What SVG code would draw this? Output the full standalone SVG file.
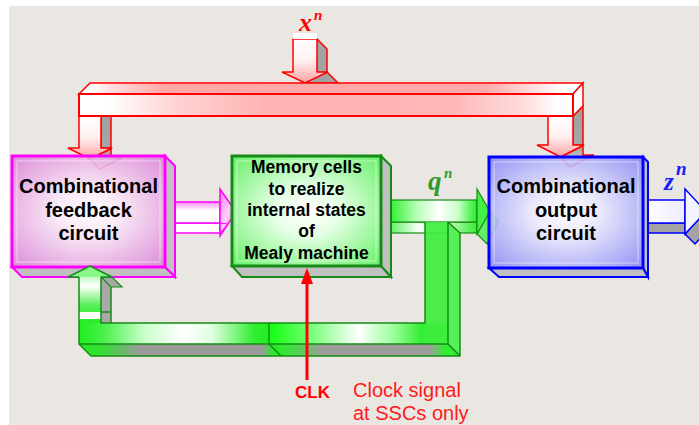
<svg xmlns="http://www.w3.org/2000/svg" width="699" height="425" viewBox="0 0 699 425">
  <defs>
    <style>
      .lbl{font-family:"Liberation Sans",Arial,sans-serif;font-weight:bold;fill:#000;text-anchor:middle}
      .big{font-size:20px}
      .mid{font-size:17.5px}
      .var{font-family:"Liberation Serif","Times New Roman",serif;font-style:italic;font-weight:bold}
      .rs{stroke:#FF0000;stroke-width:1.5;stroke-linejoin:miter}
      .gs{stroke:#178A17;stroke-width:1.5;fill:none}
      .ms{stroke:#FF00FF;stroke-width:1.5}
      .bs{stroke:#0000FF;stroke-width:1.5}
      .side{fill:#C0C0C0}
    </style>
    <linearGradient id="barFront" gradientUnits="userSpaceOnUse" x1="79" y1="0" x2="573" y2="0">
      <stop offset="0" stop-color="#fff"/><stop offset="0.06" stop-color="#fff"/>
      <stop offset="0.2" stop-color="#FFD2D2"/><stop offset="0.38" stop-color="#FFB3B3"/>
      <stop offset="0.75" stop-color="#FFB6B6"/><stop offset="0.9" stop-color="#FFDCDC"/>
      <stop offset="0.97" stop-color="#fff"/><stop offset="1" stop-color="#fff"/>
    </linearGradient>
    <linearGradient id="barTop" gradientUnits="userSpaceOnUse" x1="90" y1="0" x2="583" y2="0">
      <stop offset="0" stop-color="#fff"/><stop offset="0.04" stop-color="#FFE0E0"/>
      <stop offset="0.15" stop-color="#FFA8A8"/><stop offset="0.8" stop-color="#FFAAAA"/>
      <stop offset="0.96" stop-color="#fff"/><stop offset="1" stop-color="#fff"/>
    </linearGradient>
    <linearGradient id="redV" x1="0" y1="0" x2="0" y2="1">
      <stop offset="0" stop-color="#fff"/><stop offset="0.5" stop-color="#FFF0F0"/><stop offset="1" stop-color="#FFA0A0"/>
    </linearGradient>
    <linearGradient id="grayV" x1="0" y1="0" x2="0" y2="1">
      <stop offset="0" stop-color="#A0A0A0"/><stop offset="0.7" stop-color="#A8A8A8"/><stop offset="1" stop-color="#D8D8D8"/>
    </linearGradient>
    <radialGradient id="pinkFill" cx="0.5" cy="0.5" r="0.72">
      <stop offset="0" stop-color="#fff"/><stop offset="0.3" stop-color="#FAE8F8"/><stop offset="1" stop-color="#D97BD5"/>
    </radialGradient>
    <radialGradient id="greenFill" cx="0.5" cy="0.5" r="0.72">
      <stop offset="0" stop-color="#fff"/><stop offset="0.3" stop-color="#E6FFE6"/><stop offset="1" stop-color="#5FEF5F"/>
    </radialGradient>
    <radialGradient id="blueFill" cx="0.5" cy="0.5" r="0.72">
      <stop offset="0" stop-color="#fff"/><stop offset="0.3" stop-color="#EAEAFF"/><stop offset="1" stop-color="#8282F5"/>
    </radialGradient>
    <linearGradient id="pinkShaft" x1="0" y1="0" x2="0" y2="1">
      <stop offset="0" stop-color="#FF8CF0"/><stop offset="0.4" stop-color="#fff"/><stop offset="1" stop-color="#fff"/>
    </linearGradient>
    <linearGradient id="pinkHead" x1="0" y1="0" x2="1" y2="1">
      <stop offset="0" stop-color="#FF7CEE"/><stop offset="0.5" stop-color="#FFD0F8"/><stop offset="1" stop-color="#FF66EE"/>
    </linearGradient>
    <linearGradient id="qShaft" gradientUnits="userSpaceOnUse" x1="391" y1="0" x2="477" y2="0">
      <stop offset="0" stop-color="#33F033"/><stop offset="0.3" stop-color="#B8FFB8"/>
      <stop offset="0.55" stop-color="#fff"/><stop offset="0.78" stop-color="#C8FFC8"/><stop offset="1" stop-color="#22EE22"/>
    </linearGradient>
    <linearGradient id="qFace" gradientUnits="userSpaceOnUse" x1="391" y1="0" x2="477" y2="0">
      <stop offset="0" stop-color="#66F066"/><stop offset="0.3" stop-color="#F0FFF0"/>
      <stop offset="0.6" stop-color="#E8FFE8"/><stop offset="1" stop-color="#33EE33"/>
    </linearGradient>
    <linearGradient id="zShaft" x1="0" y1="0" x2="1" y2="0">
      <stop offset="0" stop-color="#fff"/><stop offset="1" stop-color="#ECECFF"/>
    </linearGradient>
    <linearGradient id="gLeft" gradientUnits="userSpaceOnUse" x1="79" y1="0" x2="269" y2="0">
      <stop offset="0" stop-color="#22EE22"/><stop offset="0.12" stop-color="#44F044"/>
      <stop offset="0.35" stop-color="#CCFFCC"/><stop offset="0.55" stop-color="#fff"/>
      <stop offset="0.7" stop-color="#E0FFE0"/><stop offset="0.92" stop-color="#33EE33"/><stop offset="1" stop-color="#22EE22"/>
    </linearGradient>
    <linearGradient id="gRight" gradientUnits="userSpaceOnUse" x1="269" y1="0" x2="448" y2="0">
      <stop offset="0" stop-color="#11FF11"/><stop offset="0.2" stop-color="#66FF66"/>
      <stop offset="0.5" stop-color="#fff"/><stop offset="0.7" stop-color="#99FF99"/>
      <stop offset="0.85" stop-color="#33EE33"/><stop offset="1" stop-color="#33EE33"/>
    </linearGradient>
    <linearGradient id="gUp" gradientUnits="userSpaceOnUse" x1="0" y1="266" x2="0" y2="323">
      <stop offset="0" stop-color="#7CF87C"/><stop offset="0.35" stop-color="#fff"/>
      <stop offset="0.7" stop-color="#55EE55"/><stop offset="1" stop-color="#22EE22"/>
    </linearGradient>
    <linearGradient id="gBottom" gradientUnits="userSpaceOnUse" x1="79" y1="0" x2="460" y2="0">
      <stop offset="0" stop-color="#22EE22"/><stop offset="0.06" stop-color="#33DD33"/>
      <stop offset="0.16" stop-color="#9A9A9A"/><stop offset="0.48" stop-color="#9A9A9A"/>
      <stop offset="0.51" stop-color="#22EE22"/><stop offset="0.56" stop-color="#44DD44"/>
      <stop offset="0.64" stop-color="#9C9C9C"/><stop offset="0.92" stop-color="#9C9C9C"/>
      <stop offset="0.96" stop-color="#33EE33"/><stop offset="1" stop-color="#33EE33"/>
    </linearGradient>
  </defs>

  <!-- slide background -->
  <rect width="699" height="425" fill="#fff"/>
  <rect x="9" y="6" width="690" height="419" fill="#EAE6E2"/>

  <!-- signal paths that run behind the blocks -->
  <g id="connectors">
    <!-- input x^n arrow -->
    <g id="input-arrow">
      <polygon points="317,39 327,49 327,72 338,83 305,83" fill="#A3A3A3" class="rs"/>
      <polygon points="293,39 317,39 317,72 328,72 305,83 282,72 293,72" fill="url(#redV)" class="rs"/>
      <rect x="293" y="33" width="24" height="6" fill="#fff"/>
    </g>
    <!-- drops from the input bus -->
    <polygon points="101,116 111,116 111,158 122,158 100,169 90,159 112,148 101,148" fill="url(#grayV)" class="rs"/>
    <polygon points="79,116 101,116 101,148 112,148 90,159 68,148 79,148" fill="url(#redV)" class="rs"/>
    <polygon points="573,116 583,106 583,155 594,155 570,167 560.5,157 584,145 573,145" fill="url(#grayV)" class="rs"/>
    <polygon points="548,116 573,116 573,145 584,145 560.5,157 537,145 548,145" fill="url(#redV)" class="rs"/>
    <!-- input bus -->
    <polygon points="79,94 90,83 583,83 573,94" fill="url(#barTop)" class="rs"/>
    <polygon points="573,94 583,83 583,106 573,116" fill="#fff" class="rs"/>
    <rect x="79" y="94" width="494" height="22" fill="url(#barFront)" stroke="#FF0000" stroke-width="2"/>

    <!-- feedback -> memory -->
    <g id="fb-to-mem">
      <rect x="175" y="223" width="45" height="10" fill="#fff" class="ms"/>
      <rect x="175" y="202" width="45" height="21" fill="url(#pinkShaft)" class="ms"/>
      <polygon points="220,189 236,212 220,236" fill="url(#pinkHead)" class="ms"/>
      <polyline points="220,223 228,224 220,233" fill="none" stroke="#FF00FF" stroke-width="1"/>
    </g>

    <!-- q^n state arrow -->
    <g id="state-arrow">
      <rect x="391" y="222" width="86" height="11" fill="url(#qFace)" stroke="#178A17" stroke-width="1.2"/>
      <polygon points="477,234 489,211 499,221 487,244" fill="#66EE66" stroke="#178A17" stroke-width="1.2"/>
      <rect x="391" y="200" width="86" height="22" fill="url(#qShaft)" stroke="#178A17" stroke-width="1.2"/>
      <polygon points="477,189 490,211.5 477,234" fill="#44F044" stroke="#178A17" stroke-width="1.2"/>
    </g>

    <!-- z^n output arrow -->
    <g id="output-arrow">
      <rect x="647" y="223" width="38" height="10" fill="#A3A3A3" class="bs"/>
      <polygon points="685,234 706,211.5 716,221 695,244" fill="#A3A3A3" class="bs"/>
      <rect x="647" y="200" width="38" height="23" fill="url(#zShaft)" class="bs"/>
      <polygon points="685,189 706,211.5 685,234" fill="#F4F4FF" class="bs"/>
    </g>
  </g>

  <!-- combinational feedback circuit -->
  <g id="feedback-circuit">
    <polygon points="165,156 175,166 175,277 165,267" class="side" stroke="#FF00FF" stroke-width="2"/>
    <polygon points="12,267 165,267 175,277 22,277" class="side" stroke="#FF00FF" stroke-width="2"/>
    <rect x="12" y="156" width="153" height="111" fill="url(#pinkFill)" fill-opacity="0.88" stroke="#FF00FF" stroke-width="3"/>
    <rect x="17" y="161" width="143" height="101" fill="none" stroke="#fff" stroke-opacity="0.35" stroke-width="1.5"/>
    <text class="lbl big" x="88.5" y="193">Combinational</text>
    <text class="lbl big" x="88.5" y="217">feedback</text>
    <text class="lbl big" x="88.5" y="240">circuit</text>
  </g>

  <!-- memory cells -->
  <g id="memory-cells">
    <polygon points="381,156 391,166 391,277 381,266" class="side" stroke="#178A17" stroke-width="2"/>
    <polygon points="232,266 381,266 391,277 242,277" class="side" stroke="#178A17" stroke-width="2"/>
    <rect x="232" y="156" width="149" height="110" fill="url(#greenFill)" stroke="#178A17" stroke-width="3"/>
    <rect x="237" y="161" width="139" height="100" fill="none" stroke="#fff" stroke-opacity="0.35" stroke-width="1.5"/>
    <text class="lbl mid" x="306.5" y="173">Memory cells</text>
    <text class="lbl mid" x="306.5" y="195">to realize</text>
    <text class="lbl mid" x="306.5" y="216">internal states</text>
    <text class="lbl mid" x="306.5" y="237">of</text>
    <text class="lbl mid" x="306.5" y="259">Mealy machine</text>
  </g>

  <!-- combinational output circuit -->
  <g id="output-circuit">
    <polygon points="643,157 648,162 648,277 643,268" class="side" stroke="#0000FF" stroke-width="2"/>
    <polygon points="489,268 643,268 648,277 499,277" class="side" stroke="#0000FF" stroke-width="2"/>
    <rect x="489" y="157" width="154" height="111" fill="url(#blueFill)" fill-opacity="0.88" stroke="#0000FF" stroke-width="3"/>
    <rect x="494" y="162" width="144" height="101" fill="none" stroke="#fff" stroke-opacity="0.35" stroke-width="1.5"/>
    <text class="lbl big" x="566" y="193">Combinational</text>
    <text class="lbl big" x="566" y="217">output</text>
    <text class="lbl big" x="566" y="240">circuit</text>
  </g>

  <!-- state feedback loop, drawn over the feedback block's lower face -->
  <g id="feedback-loop">
    <polygon points="79,344 448,344 460,356 91,356" fill="url(#gBottom)"/>
    <polygon points="448,222 460,233 460,356 448,344" fill="#55F055"/>
    <rect x="79" y="323" width="190" height="21" fill="url(#gLeft)"/>
    <rect x="269" y="323" width="179" height="21" fill="url(#gRight)"/>
    <rect x="425" y="222" width="23" height="122" fill="#3EEE3E" fill-opacity="0.92"/>
    <rect x="101" y="277" width="10" height="46" fill="#A8A8A8"/>
    <polygon points="101,277 112,277 122,287 111,287" fill="#A8A8A8" stroke="#178A17" stroke-width="1.2"/>
    <rect x="79" y="277" width="22" height="46" fill="url(#gUp)"/>
    <polygon points="68,277 90,266 112,277" fill="#88F888"/>
    <rect x="79" y="312" width="22" height="7" fill="#fff"/>
    <path class="gs" d="M101,277 L101,323 L425,323 L425,222 M79,277 L79,344 L448,344 L448,222 M79,277 L68,277 L90,266 L112,277 L101,277 M269,323 L269,344 L281,356 M79,344 L91,356 L460,356 L460,233 L448,222 M448,344 L460,356 M111,287 L111,323 M101,312 L111,312"/>
  </g>

  <!-- signal names -->
  <g id="signal-labels">
    <text class="var" x="299" y="31" font-size="26" fill="#FF0000">x</text>
    <text class="var" x="314" y="20" font-size="15" fill="#FF0000">n</text>
    <text class="var" x="428" y="190" font-size="27" fill="#2E9B2E">q</text>
    <text class="var" x="444" y="178" font-size="15" fill="#2E9B2E">n</text>
    <text class="var" x="664" y="190" font-size="25" fill="#1A1AFF">z</text>
    <text class="var" x="676" y="175" font-size="19" fill="#1A1AFF">n</text>
  </g>

  <!-- clock input -->
  <g id="clock">
    <line x1="307" y1="380" x2="307" y2="282" stroke="#FF0000" stroke-width="3"/>
    <polygon points="301,284 307,268 313,284" fill="#FF0000"/>
    <text x="295" y="398" font-family="Liberation Sans, Arial, sans-serif" font-weight="bold" font-size="17" fill="#FF0000">CLK</text>
    <text x="353" y="397" font-family="Liberation Sans, Arial, sans-serif" font-size="20" fill="#FF1A1A">Clock signal</text>
    <text x="353" y="420" font-family="Liberation Sans, Arial, sans-serif" font-size="20" fill="#FF1A1A">at SSCs only</text>
  </g>
</svg>
